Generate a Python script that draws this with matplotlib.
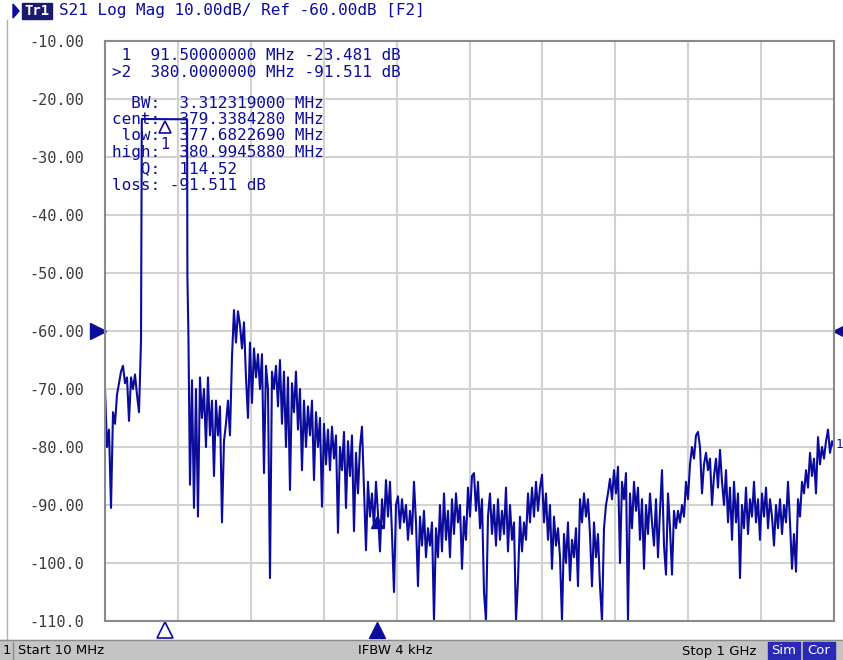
import numpy as np
import matplotlib.pyplot as plt
from matplotlib.patches import Rectangle, Polygon
from matplotlib.transforms import offset_copy

# sweep settings
start_mhz = 10.0
stop_mhz = 1000.0

# trace below the passband, 10 .. 58.9 MHz (equal steps)
low_stop_mhz = 58.9
low_db = [-70, -80, -77, -90.5, -74, -76, -71, -69, -67, -66,
          -69, -68, -75.5, -68, -70, -67.5, -71, -74, -61.7]

# passband and its edges (MHz, dB)
pass_mhz = [60.0, 91.5, 121.5, 121.9, 123.3]
pass_db = [-23.45, -23.481, -23.5, -50.3, -61.0]

stop_start_mhz = 125.4
stop_db_a = [-86.5, -68.5, -90.5, -70, -92, -68, -75, -70, -80, -68, -78, -72, -85,
             -72, -78, -73, -93, -79, -76, -72, -78, -64.5, -56.4, -62, -56.6]
stop_db_b = [-59, -63, -58.5, -68, -75, -62, -72.4, -63, -68, -64, -70, -64, -84.5,
             -66, -70, -102.6, -67, -70, -66, -73, -65, -76, -67, -80, -68]
stop_db_c = [-87.4, -69, -74, -67, -77, -70, -84, -72, -80, -73, -78, -72, -85.7,
             -74, -80, -75, -90.3, -76, -83, -77, -84, -76.5, -82, -78, -94.8]
stop_db_d = [-80, -84, -77.4, -90.5, -79, -85, -78, -94.5, -81, -88, -80, -76.5, -87,
             -97.8, -86, -92, -88, -94, -86, -91.5, -98, -89, -94, -85.7, -92]
stop_db_e = [-86, -95, -105, -90, -88.5, -94, -89, -93, -90, -96, -91, -95, -86,
             -93, -104, -92, -97, -91, -99, -94, -97, -93, -110, -94, -99]
stop_db_f = [-90, -98, -88, -96, -91, -99, -89, -95, -88, -93, -90, -101, -92,
             -96, -87, -92, -85, -84.5, -91, -86, -94, -89, -105, -110, -92]
stop_db_g = [-88, -95, -90, -97, -89, -96, -91, -95, -87, -98, -90, -96, -93,
             -110, -103, -92, -98, -93, -96, -88, -93, -87, -92, -86, -91]
stop_db_h = [-87, -84.8, -93, -88, -96, -90, -101, -92, -97, -94, -99, -110, -95,
             -100, -93, -103, -96, -99, -94, -104, -89, -93, -88, -92, -89]
stop_db_i = [-95, -104, -93, -99, -95, -104, -110, -94, -90, -88, -85.5, -89, -84,
             -88, -83.4, -100, -86, -89, -84.5, -110, -88, -94, -86, -91, -87]
stop_db_j = [-96, -89, -101, -90, -95, -88, -93, -97, -89, -99, -91, -84, -97,
             -102, -88, -94, -102, -91, -94, -91, -93, -90, -92, -86, -89]
stop_db_k = [-83, -80, -82, -78, -77.4, -80, -88, -83, -81, -84, -82, -90, -85,
             -82, -87, -80.5, -86, -90, -84, -93, -87, -96, -86, -93, -88]
stop_db_l = [-102.6, -90, -94, -87, -95, -89, -92, -86, -93, -89, -96, -88, -92,
             -87, -94, -89, -92, -97, -90, -94, -89, -95, -90, -93, -86]
stop_db_m = [-93, -101, -95, -101.5, -89, -92, -86, -88, -84, -87, -81, -85,
             -82, -88, -78.3, -83, -80, -82, -79, -77, -81, -79, -80]

# markers
marker_mhz = [91.5, 380.0]
marker_db = [-23.481, -91.511]

y_ticks = [-110, -100, -90, -80, -70, -60, -50, -40, -30, -20, -10]
y_labels = ['-110.0', '-100.0', '-90.00', '-80.00', '-70.00', '-60.00',
            '-50.00', '-40.00', '-30.00', '-20.00', '-10.00']

navy = '#0c0c9c'
W, H = 843, 660

stop_db = (stop_db_a + stop_db_b + stop_db_c + stop_db_d + stop_db_e + stop_db_f +
           stop_db_g + stop_db_h + stop_db_i + stop_db_j + stop_db_k + stop_db_l + stop_db_m)
freq = np.concatenate([np.linspace(start_mhz, low_stop_mhz, len(low_db)),
                       pass_mhz,
                       np.linspace(stop_start_mhz, stop_mhz, len(stop_db))])
s21 = np.concatenate([low_db, pass_db, stop_db])


def fx(x):
    return x / W


def fy(y):
    return 1 - y / H


fig = plt.figure(figsize=(W / 100, H / 100), dpi=100)
ax = fig.add_axes([fx(105), fy(621), (834 - 105) / W, 580 / H])

ax.plot(freq, s21, color=navy, lw=1.5)
ax.set_xlim(start_mhz, stop_mhz)
ax.set_ylim(-110, -10)
ax.set_xticks(np.linspace(start_mhz, stop_mhz, 11))
ax.set_xticklabels([])
ax.set_yticks(y_ticks)
ax.set_yticklabels(y_labels, family='DejaVu Sans Mono', fontsize=11, color='#3c3c3c')
ax.tick_params(length=0, pad=15)
ax.grid(True, color='#d2d2d2', lw=1.5)
ax.set_axisbelow(True)
for sp in ax.spines.values():
    sp.set_color('#8a8a8a')
    sp.set_linewidth(1.5)

# marker symbols on the trace
tri_off = offset_copy(ax.transData, fig=fig, x=0, y=-8, units='dots')
lab_off = offset_copy(ax.transData, fig=fig, x=0, y=-25, units='dots')
ax.plot(marker_mhz[0], marker_db[0], marker='^', ms=9, mfc='white', mec=navy,
        mew=1.2, transform=tri_off)
ax.text(marker_mhz[0], marker_db[0], '1', transform=lab_off, color=navy,
        family='DejaVu Sans Mono', fontsize=11, ha='center', va='center')
ax.plot(marker_mhz[1], marker_db[1], marker='^', ms=9, mfc=navy, mec=navy,
        transform=tri_off)

# marker positions under the x axis
bot_off = offset_copy(ax.transData, fig=fig, x=0, y=-9, units='dots')
ax.plot(marker_mhz[0], -110, marker='^', ms=11, mfc='white', mec=navy, mew=1.2,
        transform=bot_off, clip_on=False)
ax.plot(marker_mhz[1], -110, marker='^', ms=11, mfc=navy, mec=navy,
        transform=bot_off, clip_on=False)

# reference level arrows
ax.plot(start_mhz, -60, marker='>', ms=11, color=navy, clip_on=False,
        transform=offset_copy(ax.transData, fig=fig, x=-7, y=0, units='dots'))
ax.plot(stop_mhz, -60, marker='<', ms=11, color=navy, clip_on=False,
        transform=offset_copy(ax.transData, fig=fig, x=7, y=0, units='dots'))
ax.text(stop_mhz, -80, '1', color=navy, family='DejaVu Sans Mono', fontsize=9,
        ha='left', va='center', clip_on=False,
        transform=offset_copy(ax.transData, fig=fig, x=2, y=3, units='dots'))

# marker readout
mono = dict(family='DejaVu Sans Mono', fontsize=11.5, color=navy, va='center')
readout = [' 1  91.50000000 MHz -23.481 dB',
           '>2  380.0000000 MHz -91.511 dB']
for i, line in enumerate(readout):
    fig.text(fx(112), fy(56 + 16.5 * i), line, **mono)
bw_lines = ['  BW:  3.312319000 MHz',
            'cent:  379.3384280 MHz',
            ' low:  377.6822690 MHz',
            'high:  380.9945880 MHz',
            '   Q:  114.52',
            'loss: -91.511 dB']
for i, line in enumerate(bw_lines):
    fig.text(fx(112), fy(103 + 16.4 * i), line, **mono)

# header
fig.add_artist(Polygon([[fx(13), fy(4)], [fx(13), fy(18)], [fx(19), fy(11)]],
                       closed=True, color=navy, transform=fig.transFigure))
fig.add_artist(Rectangle((fx(22), fy(19)), 30 / W, 16 / H, color='#1a1a70',
                         transform=fig.transFigure))
fig.text(fx(37), fy(11), 'Tr1', color='white', family='DejaVu Sans Mono',
         fontsize=10, weight='bold', ha='center', va='center')
fig.text(fx(59), fy(11), 'S21 Log Mag 10.00dB/ Ref -60.00dB [F2]', **mono)

# frame line on the left
fig.add_artist(plt.Line2D([fx(7), fx(7)], [fy(20), fy(640)], color='#b0b0b0',
                          lw=1, transform=fig.transFigure))

# status bar
fig.add_artist(Rectangle((0, 0), 1, 20 / H, color='#c4c4c4', transform=fig.transFigure))
fig.add_artist(plt.Line2D([0, 1], [fy(640), fy(640)], color='#8c8c8c', lw=1,
                          transform=fig.transFigure))
fig.add_artist(plt.Line2D([fx(13), fx(13)], [fy(642), fy(659)], color='#8c8c8c',
                          lw=1, transform=fig.transFigure))
status = dict(fontsize=9.5, color='black', va='center', family='DejaVu Sans')
fig.text(fx(3), fy(651), '1', **status)
fig.text(fx(18), fy(651), 'Start 10 MHz', **status)
fig.text(fx(358), fy(651), 'IFBW 4 kHz', **status)
fig.text(fx(682), fy(651), 'Stop 1 GHz', **status)
for x0, word in [(768, 'Sim'), (803, 'Cor')]:
    fig.add_artist(Rectangle((fx(x0), fy(659)), 32 / W, 17 / H, color='#2a2ab4',
                             transform=fig.transFigure))
    fig.text(fx(x0 + 16), fy(651), word, fontsize=9.5, color='white',
             ha='center', va='center', family='DejaVu Sans')

fig.savefig('out.png', dpi=100)
